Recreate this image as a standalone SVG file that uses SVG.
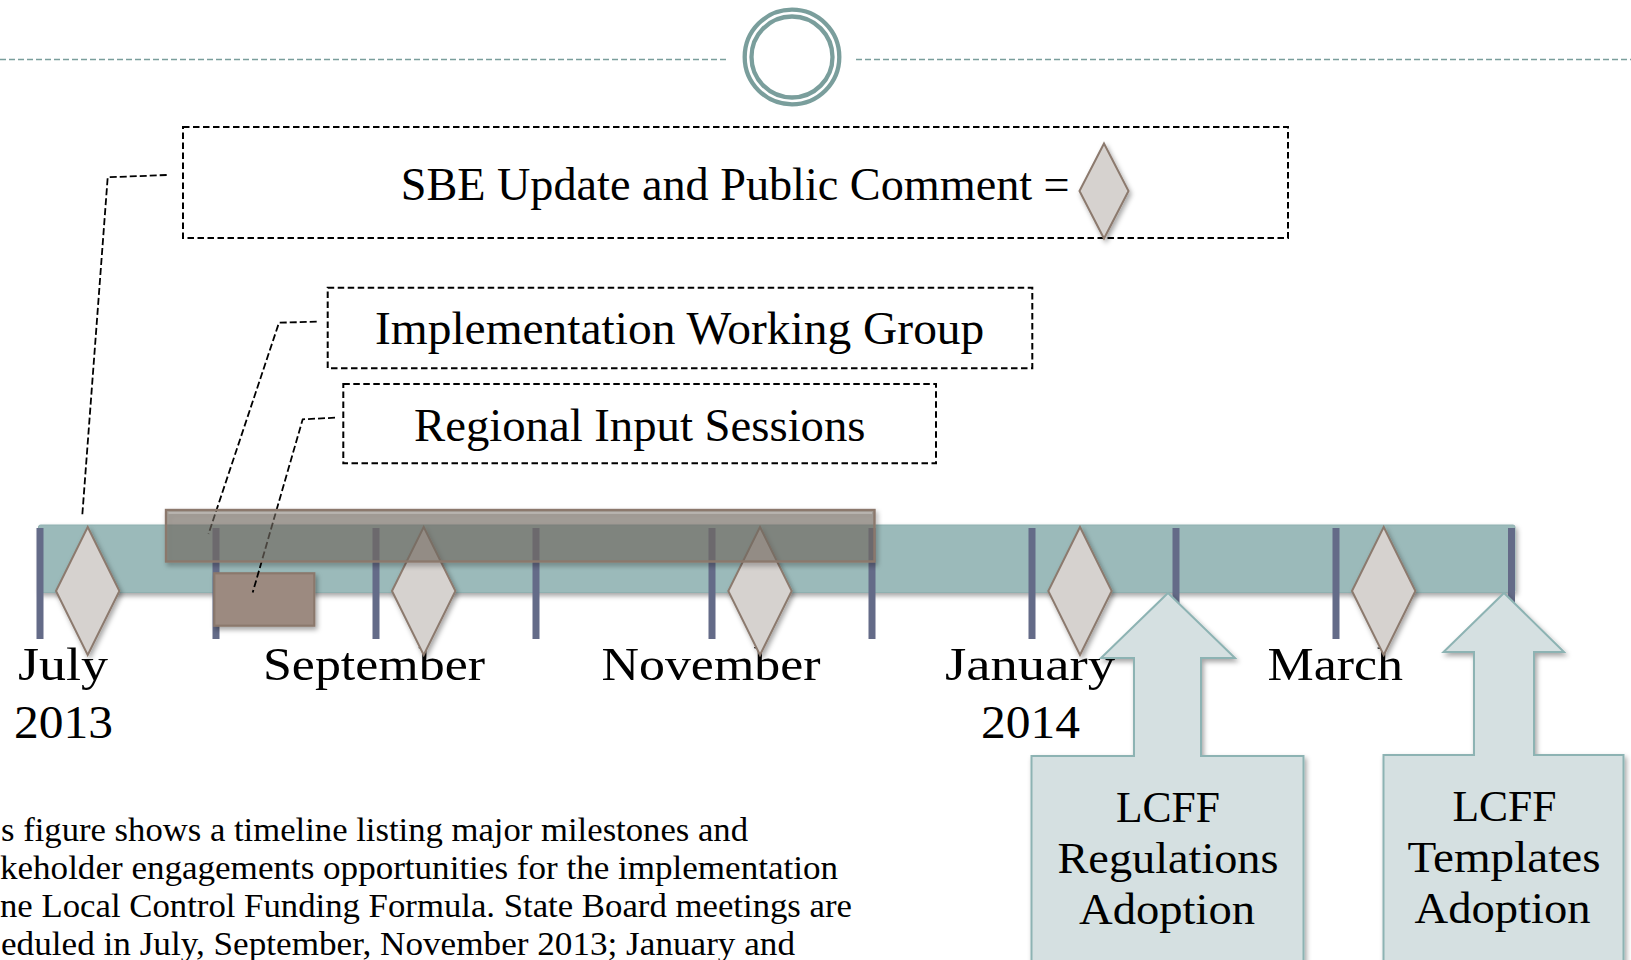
<svg xmlns="http://www.w3.org/2000/svg" width="1631" height="960" viewBox="0 0 1631 960">
<style>
.t{font-family:"Liberation Serif","Times New Roman",serif;fill:#000}
.big{font-size:46px}
.mid{font-size:44px}
.small{font-size:33px}
.legend{fill:none;stroke:#000;stroke-width:2;stroke-dasharray:6.5 3.5}
.conn{fill:none;stroke:#000;stroke-width:1.8;stroke-dasharray:7 3}
.tick{fill:#646b88}
.dia{fill:#d6d2cf;stroke:#8c7a6e;stroke-width:2}
.arrow{fill:#d5e0e1;stroke:#8db3b3;stroke-width:2}
.hdr{stroke:#7a9e9c;stroke-width:1.6;stroke-dasharray:6 3;fill:none}
</style>
<defs>
<filter id="sh" x="-20%" y="-20%" width="150%" height="150%">
<feDropShadow dx="2" dy="3" stdDeviation="2.5" flood-color="#000" flood-opacity="0.35"/>
</filter>
</defs>
<rect width="1631" height="960" fill="#fff"/>
<g id="header">
<line class="hdr" x1="0" y1="59.5" x2="727" y2="59.5"/>
<line class="hdr" x1="856" y1="59.5" x2="1631" y2="59.5"/>
<circle cx="792" cy="57" r="47.3" fill="none" stroke="#7a9e9c" stroke-width="4.3"/>
<circle cx="792" cy="57" r="40.5" fill="none" stroke="#7a9e9c" stroke-width="4.3"/>
</g>
<g id="legend-sbe">
<rect class="legend" x="183" y="127" width="1105" height="111"/>
<text class="t big" x="400.7" y="200" textLength="669" lengthAdjust="spacingAndGlyphs">SBE Update and Public Comment =</text>
<polygon class="dia" filter="url(#sh)" points="1104,143.5 1128.5,191 1104,238.5 1079.5,191"/>
</g>
<g id="legend-iwg">
<rect class="legend" x="327.7" y="287.7" width="704.6" height="80.6"/>
<text class="t big" x="375" y="343.5" textLength="609.3" lengthAdjust="spacingAndGlyphs">Implementation Working Group</text>
</g>
<g id="legend-ris">
<rect class="legend" x="343.3" y="384" width="592.7" height="79.3"/>
<text class="t big" x="414" y="441" textLength="451.5" lengthAdjust="spacingAndGlyphs">Regional Input Sessions</text>
</g>
<g id="timeline">
<rect x="38.5" y="525" width="1476.5" height="67.5" rx="2" fill="#9bbaba" stroke="#8fb0b0" stroke-width="1" filter="url(#sh)"/>
</g>
<g id="ticks">
<rect class="tick" x="36.5" y="528" width="7" height="111"/>
<rect class="tick" x="212.5" y="528" width="7" height="111"/>
<rect class="tick" x="372.5" y="528" width="7" height="111"/>
<rect class="tick" x="532.5" y="528" width="7" height="111"/>
<rect class="tick" x="708.5" y="528" width="7" height="111"/>
<rect class="tick" x="868.5" y="528" width="7" height="111"/>
<rect class="tick" x="1028.5" y="528" width="7" height="111"/>
<rect class="tick" x="1172.5" y="528" width="7" height="111"/>
<rect class="tick" x="1332.5" y="528" width="7" height="111"/>
<rect class="tick" x="1508" y="528" width="7" height="111"/>
</g>
<g id="lcff-regulations">
<path class="arrow" filter="url(#sh)" d="M1168,593 L1235,658 L1201,658 L1201,756 L1303.5,756 L1303.5,975 L1031.5,975 L1031.5,756 L1134,756 L1134,658 L1101,658 Z"/>
<text class="t mid" x="1168" y="822" text-anchor="middle" textLength="104" lengthAdjust="spacingAndGlyphs">LCFF</text>
<text class="t mid" x="1168" y="873" text-anchor="middle" textLength="221" lengthAdjust="spacingAndGlyphs">Regulations</text>
<text class="t mid" x="1167" y="924" text-anchor="middle" textLength="176" lengthAdjust="spacingAndGlyphs">Adoption</text>
</g>
<g id="lcff-templates">
<path class="arrow" filter="url(#sh)" d="M1504,593 L1564,652 L1534,652 L1534,755 L1623.5,755 L1623.5,975 L1383.5,975 L1383.5,755 L1474,755 L1474,652 L1443.5,652 Z"/>
<text class="t mid" x="1504.5" y="821" text-anchor="middle" textLength="104" lengthAdjust="spacingAndGlyphs">LCFF</text>
<text class="t mid" x="1504" y="872" text-anchor="middle" textLength="193" lengthAdjust="spacingAndGlyphs">Templates</text>
<text class="t mid" x="1502.5" y="923" text-anchor="middle" textLength="176" lengthAdjust="spacingAndGlyphs">Adoption</text>
</g>
<g id="month-labels">
<text class="t big" x="18" y="680" textLength="90" lengthAdjust="spacingAndGlyphs">July</text>
<text class="t big" x="14" y="738" textLength="99" lengthAdjust="spacingAndGlyphs">2013</text>
<text class="t big" x="263" y="680" textLength="222" lengthAdjust="spacingAndGlyphs">September</text>
<text class="t big" x="601.5" y="680" textLength="219" lengthAdjust="spacingAndGlyphs">November</text>
<text class="t big" x="945" y="680" textLength="170" lengthAdjust="spacingAndGlyphs">January</text>
<text class="t big" x="981" y="738" textLength="99" lengthAdjust="spacingAndGlyphs">2014</text>
<text class="t big" x="1267.5" y="680" textLength="135.5" lengthAdjust="spacingAndGlyphs">March</text>
</g>
<g id="sbe-meetings">
<polygon class="dia" filter="url(#sh)" points="87.7,527 119.4,591 87.7,655 56,591"/>
<polygon class="dia" filter="url(#sh)" points="423.7,527 455.4,591 423.7,655 392,591"/>
<polygon class="dia" filter="url(#sh)" points="760,527 791.7,591 760,655 728.3,591"/>
<polygon class="dia" filter="url(#sh)" points="1080,527 1111.7,591 1080,655 1048.3,591"/>
<polygon class="dia" filter="url(#sh)" points="1383.7,527 1415.4,591 1383.7,655 1352,591"/>
</g>
<g id="regional-input-bar">
<rect x="214.3" y="573.3" width="100" height="52.4" fill="#9c8a80" stroke="#8b786c" stroke-width="2.2" filter="url(#sh)"/>
</g>
<g id="connectors">
<path class="conn" d="M166.7,175 L107.7,177.3 L82.3,515"/>
<path class="conn" d="M316.7,321.7 L279,322.7 L208.5,534"/>
<path class="conn" d="M335,417.7 L302.7,419.3 L252.7,592.5"/>
</g>
<g id="working-group-bar">
<rect x="166" y="510" width="708.5" height="51.5" fill="#776f66" fill-opacity="0.57" stroke="#8b786c" stroke-width="2.4" filter="url(#sh)"/>
<line x1="168.5" y1="513" x2="872" y2="513" stroke="#fff" stroke-opacity="0.3" stroke-width="1.5"/>
</g>
<g id="description">
<text class="t small" x="1" y="841" textLength="747" lengthAdjust="spacingAndGlyphs">s figure shows a timeline listing major milestones and</text>
<text class="t small" x="0" y="879.3" textLength="838" lengthAdjust="spacingAndGlyphs">keholder engagements opportunities for the implementation</text>
<text class="t small" x="0" y="917.3" textLength="852" lengthAdjust="spacingAndGlyphs">ne Local Control Funding Formula. State Board meetings are</text>
<text class="t small" x="1" y="955" textLength="794" lengthAdjust="spacingAndGlyphs">eduled in July, September, November 2013; January and</text>
</g>
</svg>
